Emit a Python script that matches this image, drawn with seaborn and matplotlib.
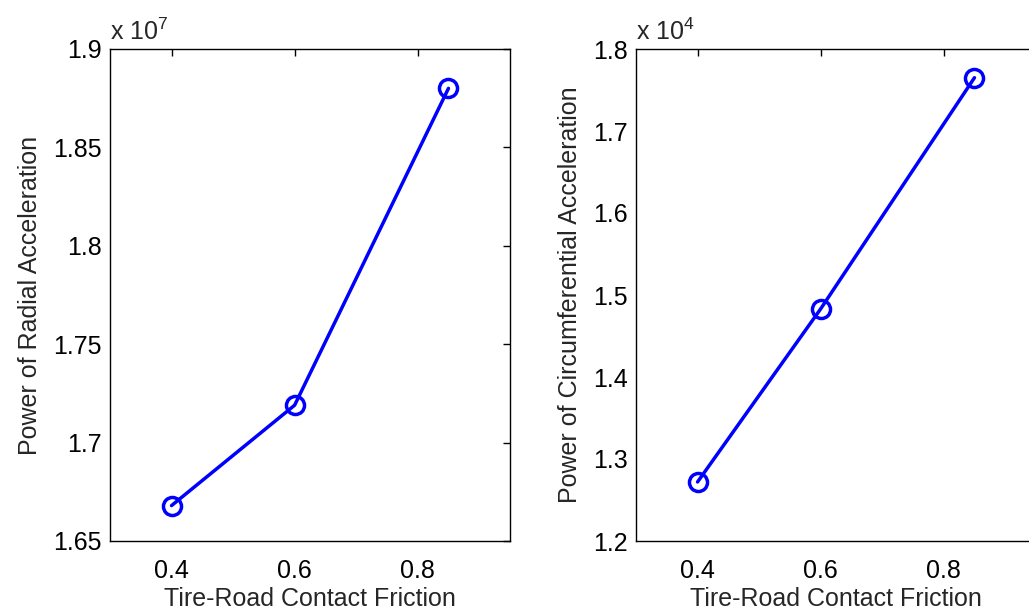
import numpy as np
import pandas as pd
import seaborn as sns
import matplotlib.pyplot as plt

# values
friction = [0.4, 0.6, 0.85]
radial_power = [1.668e7, 1.719e7, 1.880e7]
circ_power = [1.272e4, 1.483e4, 1.765e4]

x_ticks = [0.4, 0.6, 0.8]
radial_ticks = [1.65, 1.7, 1.75, 1.8, 1.85, 1.9]
circ_ticks = [1.2, 1.3, 1.4, 1.5, 1.6, 1.7, 1.8]

FS = 18


def style_axis(ax):
    ax.tick_params(direction='in', top=True, right=True, length=5, width=1,
                   labelsize=FS, pad=6, colors='black')
    ax.tick_params(axis='x', pad=13)
    for s in ax.spines.values():
        s.set_linewidth(1.0)
        s.set_color('black')
        s.set_visible(True)


def panel(ax, values, scale, exp, ticks, ylabel):
    df = pd.DataFrame({'friction': friction, 'value': np.array(values) / scale})
    sns.lineplot(data=df, x='friction', y='value', ax=ax, color='#0000ff',
                 linewidth=2.5, marker='o', markersize=13, markerfacecolor='none',
                 markeredgecolor='#0000ff', markeredgewidth=2.5)
    ax.set_xlim(0.3, 0.95)
    ax.set_ylim(ticks[0], ticks[-1])
    ax.set_xticks(x_ticks)
    ax.set_xticklabels([f'{t:g}' for t in x_ticks])
    ax.set_yticks(ticks)
    ax.set_yticklabels([f'{t:g}' for t in ticks])
    ax.set_xlabel('Tire-Road Contact Friction', fontsize=FS, labelpad=3)
    ax.set_ylabel(ylabel, fontsize=FS, labelpad=8)
    ax.text(0.0, 1.008, f'x 10$^{{{exp}}}$', transform=ax.transAxes,
            fontsize=FS, ha='left', va='bottom')
    style_axis(ax)


sns.set_style('white')
plt.rcParams['font.family'] = ['Liberation Sans', 'DejaVu Sans']
plt.rcParams['mathtext.fontset'] = 'custom'
plt.rcParams['mathtext.rm'] = 'Liberation Sans'

fig = plt.figure(figsize=(10.29, 6.15), dpi=100)
ax1 = fig.add_axes([110 / 1029, 74 / 615, 400 / 1029, 492 / 615])
ax2 = fig.add_axes([636 / 1029, 74 / 615, 400 / 1029, 492 / 615])

panel(ax1, radial_power, 1e7, 7, radial_ticks, 'Power of Radial Acceleration')
panel(ax2, circ_power, 1e4, 4, circ_ticks, 'Power of Circumferential Acceleration')

fig.savefig('out.png', dpi=100, facecolor='white')
